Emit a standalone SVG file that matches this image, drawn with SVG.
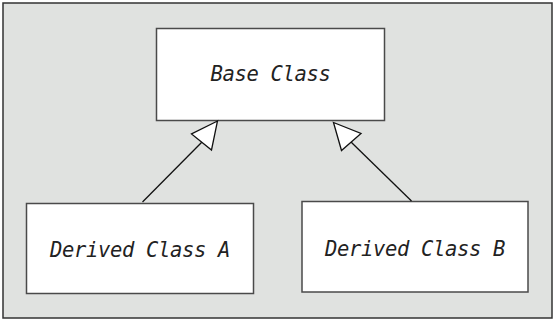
<svg xmlns="http://www.w3.org/2000/svg" width="556" height="322" viewBox="0 0 556 322">
<style>
.box{fill:#fff;stroke:#4a4a4a;stroke-width:1.5}
.lbl{font-family:"DejaVu Sans Mono","Liberation Mono",monospace;font-style:oblique;font-size:20.5px;letter-spacing:-0.35px;fill:#222;text-anchor:middle}
.edge{stroke:#111;stroke-width:1.3;fill:none}
.head{fill:#fff;stroke:#111;stroke-width:1.3;stroke-linejoin:miter}
</style>
<rect x="3" y="3" width="549" height="315" fill="#e0e2e0" stroke="#333" stroke-width="1.5"/>
<g id="base">
<rect class="box" x="156.5" y="28.5" width="228" height="92"/>
<text class="lbl" x="270.5" y="80.5">Base Class</text>
</g>
<g id="derivedA">
<rect class="box" x="26.5" y="203.5" width="227" height="90"/>
<text class="lbl" x="140" y="257">Derived Class A</text>
</g>
<g id="derivedB">
<rect class="box" x="302" y="201.5" width="226" height="90.5"/>
<text class="lbl" x="415" y="256">Derived Class B</text>
</g>
<g id="connectors">
<line class="edge" x1="142.5" y1="202" x2="202" y2="142"/>
<polygon class="head" points="217.5,121 191.5,134 211.5,150"/>
<line class="edge" x1="411.5" y1="201" x2="351" y2="142"/>
<polygon class="head" points="333.5,122.5 361,133.5 341.5,150.5"/>
</g>
</svg>
